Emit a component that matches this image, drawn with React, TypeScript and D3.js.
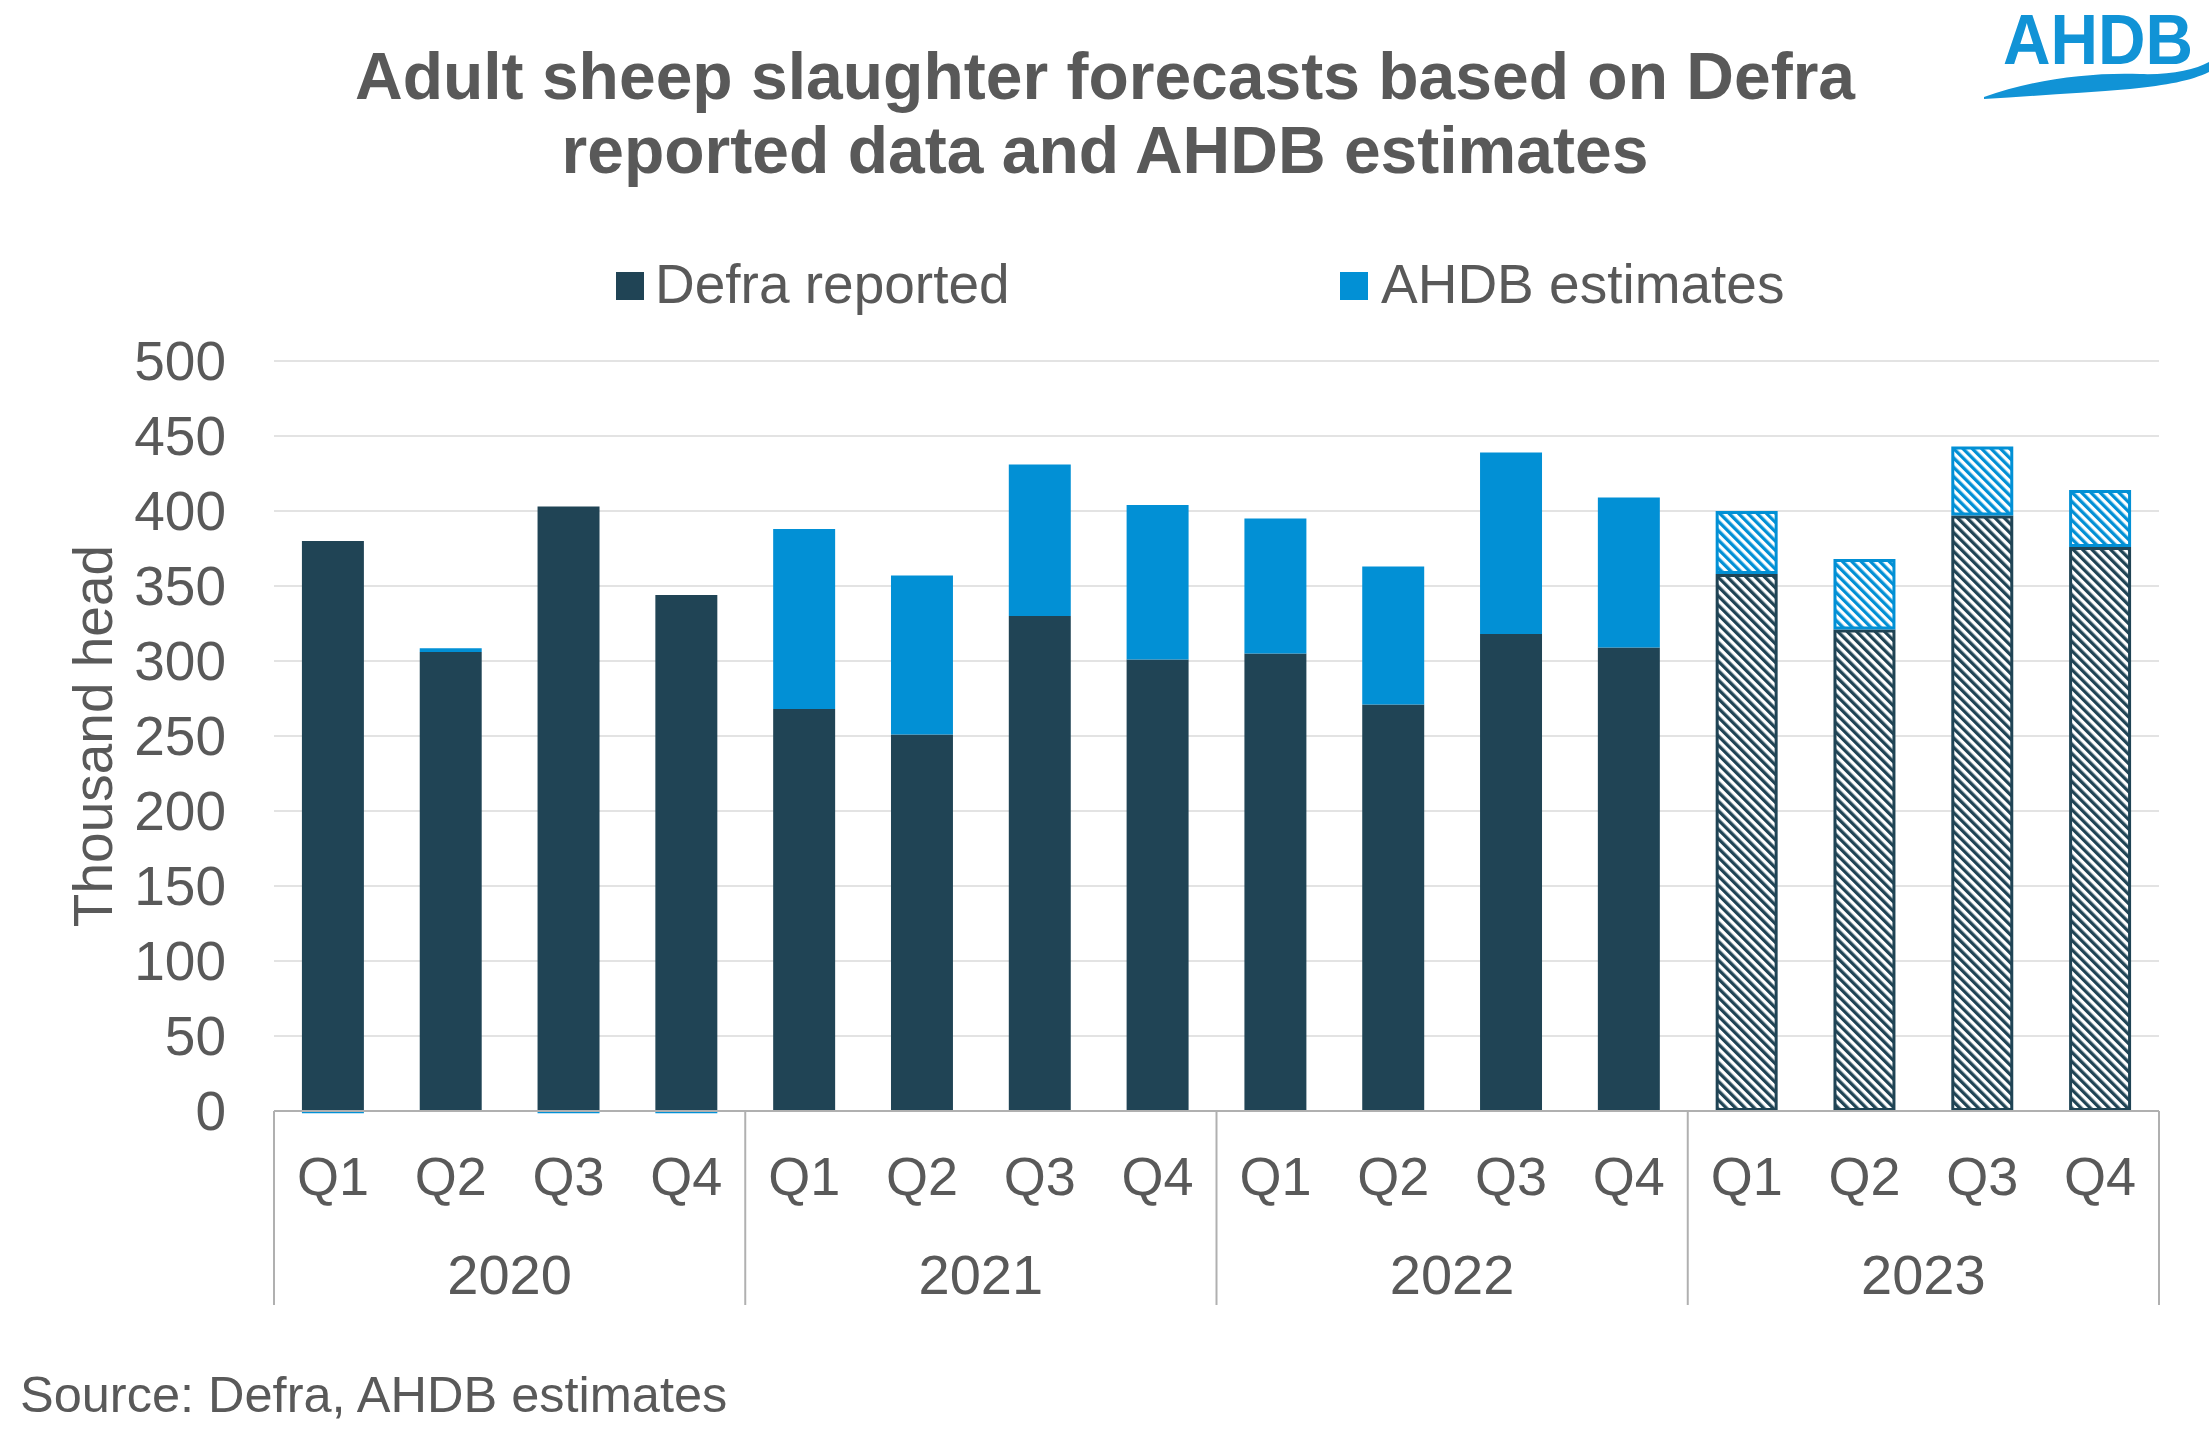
import React from 'react';
import * as d3 from 'd3';

const years = ['2020', '2021', '2022', '2023'];
const quarters = ['Q1', 'Q2', 'Q3', 'Q4'];
const defraReported = [380, 306, 403, 344, 268, 251, 330, 301, 305, 271, 318, 309, 358, 321, 397, 376];
const ahdbEstimates = [0, 2.5, 0, 0, 120, 106, 101, 103, 90, 92, 121, 100, 42, 47, 46, 38];
const forecastFlags = [false, false, false, false, false, false, false, false, false, false, false, false, true, true, true, true];
const yTicks = [0, 50, 100, 150, 200, 250, 300, 350, 400, 450, 500];

const W = 2210;
const H = 1429;
const DARK = '#204455';
const BLUE = '#0290d5';
const TEXT = '#595959';
const FONT = '"Liberation Sans", Arial, Helvetica, sans-serif';

const plotLeft = 274;
const plotRight = 2159;
const plotTop = 361;
const plotBottom = 1111;

export default function App() {
  const cats = d3.range(years.length * quarters.length);
  const x = d3.scaleBand<number>().domain(cats).range([plotLeft, plotRight]).paddingInner(0.474).paddingOuter(0.237);
  const y = d3.scaleLinear().domain([0, 500]).range([plotBottom, plotTop]);
  const step = x.step();
  const bw = x.bandwidth();

  const rows = cats.map((i) => ({
    i,
    q: quarters[i % 4],
    defra: defraReported[i],
    ahdb: ahdbEstimates[i],
    forecast: forecastFlags[i],
  }));

  const stack = d3.stack<any>().keys(['defra', 'ahdb'])(rows as any);
  const P = 6.6;

  return (
    <svg width={W} height={H} viewBox={`0 0 ${W} ${H}`} style={{ position: 'absolute', left: 0, top: 0, background: '#fff' }} fontFamily={FONT}>
      <defs>
        <pattern id="hatchDark" patternUnits="userSpaceOnUse" width={P} height={P} patternTransform="rotate(-45)">
          <rect width={P} height={P} fill="#fff" />
          <rect width={P / 2} height={P} fill={DARK} />
        </pattern>
        <pattern id="hatchBlue" patternUnits="userSpaceOnUse" width={P} height={P} patternTransform="rotate(-45)">
          <rect width={P} height={P} fill="#fff" />
          <rect width={P / 2} height={P} fill={BLUE} />
        </pattern>
      </defs>
      <rect width={W} height={H} fill="#fff" />

      {/* Title */}
      <text x={1105} y={99} textAnchor="middle" fontSize={66} fontWeight="bold" fill={TEXT}>
        Adult sheep slaughter forecasts based on Defra
      </text>
      <text x={1105} y={173} textAnchor="middle" fontSize={66} fontWeight="bold" fill={TEXT}>
        reported data and AHDB estimates
      </text>

      {/* Logo */}
      <g>
        <text x={2003} y={64} fontSize={71} fontWeight="bold" fill="#1193d6" textLength={190} lengthAdjust="spacingAndGlyphs">
          AHDB
        </text>
        <path
          d="M1984,97 C2030,80 2090,72 2140,74 C2170,75 2195,70 2209,62 L2209,72 C2190,81 2168,85 2130,89 C2080,93 2030,96 1984,99 Z"
          fill="#1193d6"
        />
      </g>

      {/* Legend */}
      <rect x={616} y={272} width={28} height={28} fill={DARK} />
      <text x={655} y={303} fontSize={55} fill={TEXT}>Defra reported</text>
      <rect x={1340} y={272} width={28} height={28} fill={BLUE} />
      <text x={1381} y={303} fontSize={55} fill={TEXT}>AHDB estimates</text>

      {/* Gridlines */}
      {yTicks.filter((t) => t > 0).map((t) => (
        <line key={t} x1={plotLeft} x2={plotRight} y1={y(t)} y2={y(t)} stroke="#e3e3e3" strokeWidth={2.2} />
      ))}

      {/* Y tick labels */}
      {yTicks.map((t) => (
        <text key={t} x={226} y={y(t) + 19} textAnchor="end" fontSize={55} fill={TEXT}>
          {t}
        </text>
      ))}

      {/* Y axis title */}
      <text transform={`translate(${112},${(plotTop + plotBottom) / 2}) rotate(-90)`} textAnchor="middle" fontSize={55} fill={TEXT}>
        Thousand head
      </text>

      {/* Bars */}
      {stack.map((layer, li) => (
        <g key={li}>
          {layer.map((d: any, i: number) => {
            const r = rows[i];
            const x0 = x(i) as number;
            const y0 = y(d[1]);
            const h = y(d[0]) - y(d[1]);
            const color = li === 0 ? DARK : BLUE;
            if (h <= 0.01) {
              return <line key={i} x1={x0} x2={x0 + bw} y1={y(0) + 1.5} y2={y(0) + 1.5} stroke={color} strokeWidth={1.5} />;
            }
            if (r.forecast) {
              return (
                <rect key={i} x={x0 + 1.5} y={y0 + 1.5} width={bw - 3} height={h - 3} fill={li === 0 ? 'url(#hatchDark)' : 'url(#hatchBlue)'} stroke={color} strokeWidth={3} />
              );
            }
            return <rect key={i} x={x0} y={y0} width={bw} height={h} fill={color} />;
          })}
        </g>
      ))}

      {/* X axis */}
      <line x1={plotLeft} x2={plotRight} y1={plotBottom} y2={plotBottom} stroke="#b0b0b0" strokeWidth={2} />
      {d3.range(years.length + 1).map((k) => {
        const xx = plotLeft + k * 4 * step;
        return <line key={k} x1={xx} x2={xx} y1={plotBottom} y2={1305} stroke="#b0b0b0" strokeWidth={2} />;
      })}

      {/* Quarter labels */}
      {rows.map((r) => (
        <text key={r.i} x={(x(r.i) as number) + bw / 2} y={1195} textAnchor="middle" fontSize={54} fill={TEXT}>
          {r.q}
        </text>
      ))}

      {/* Year labels */}
      {years.map((yr, k) => (
        <text key={yr} x={plotLeft + (k * 4 + 2) * step} y={1294} textAnchor="middle" fontSize={56} fill={TEXT}>
          {yr}
        </text>
      ))}

      {/* Source */}
      <text x={20} y={1412} fontSize={50.5} fill={TEXT}>Source: Defra, AHDB estimates</text>
    </svg>
  );
}
